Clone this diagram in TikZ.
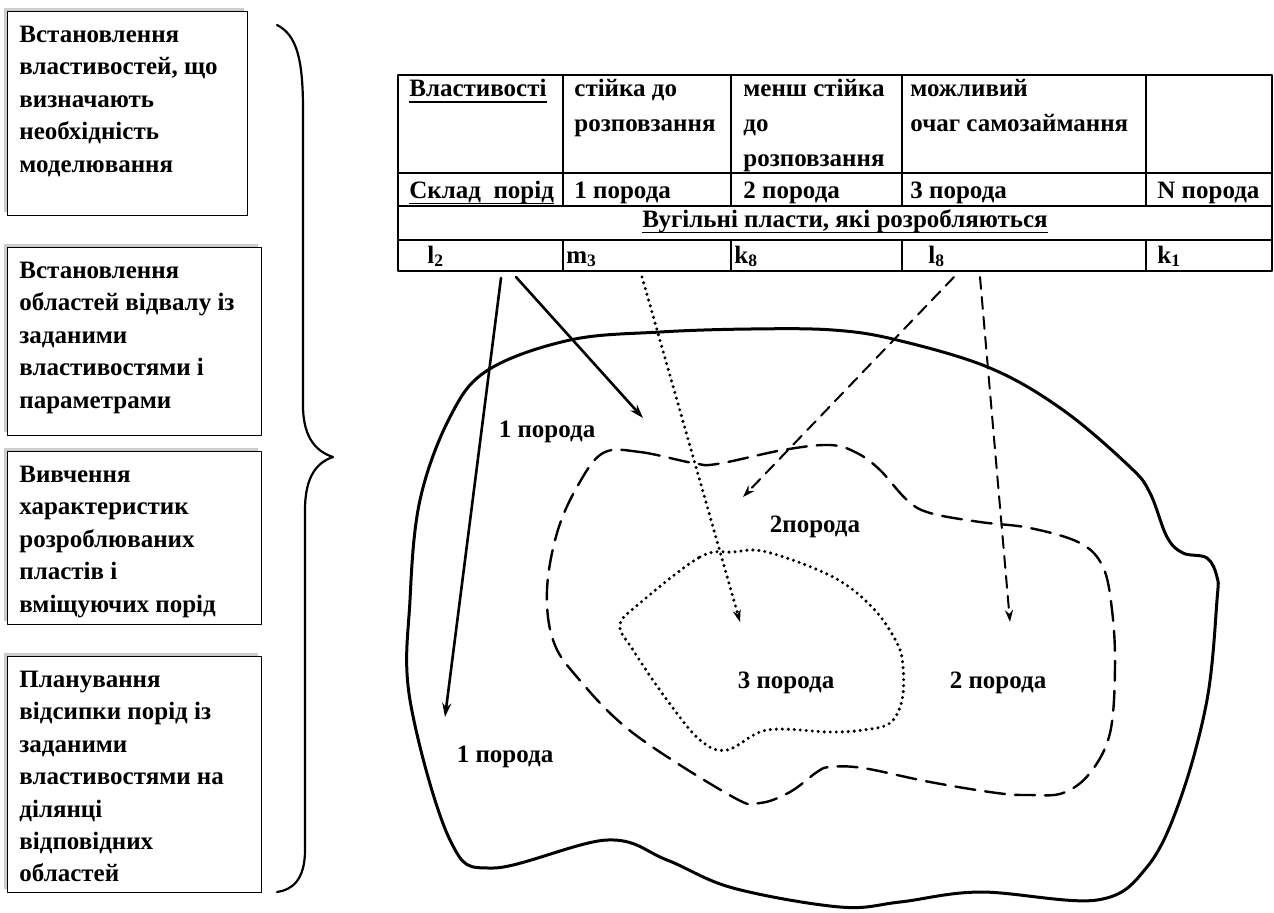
\documentclass[tikz,border=0pt]{standalone}
\usepackage{fontspec}
\setmainfont{Liberation Serif}[BoldFont={Liberation Serif Bold}]
\usetikzlibrary{arrows.meta,shadows}
\newcommand{\tstrut}{\rule{0pt}{10pt}}
\newcommand{\uln}[1]{\setbox0\hbox{#1}\rlap{\rule[-3.2pt]{\wd0}{0.9pt}}\box0}

\begin{document}
\begin{tikzpicture}[x=0.5pt,y=-0.5pt,font=\fontsize{12.5}{16.2}\selectfont\bfseries,
  line join=round,line cap=round,>=stealth,
  stagebox/.style={draw,line width=0.6pt,fill=white,anchor=north west,inner sep=0pt,
    minimum width=127pt,drop shadow={shadow xshift=-2pt,shadow yshift=2pt,fill=black!20,opacity=1}},
  stagetext/.style={anchor=north west,inner sep=0pt,align=left},
  head/.style={stagetext,font=\fontsize{12.5}{17.5}\selectfont\bfseries},
  cell/.style={anchor=base west,inner sep=0pt},
  rock/.style={anchor=base,inner sep=0pt},
  grid/.style={line width=0.7pt},
  flow/.style={line width=1.3pt,-{Stealth[length=7pt,width=4.5pt]}},
  flowdash/.style={line width=1pt,dash pattern=on 6pt off 4pt,-{Stealth[length=6pt,width=4pt]}},
  flowdot/.style={line width=1.7pt,dash pattern=on 0pt off 3pt,-{Stealth[length=6pt,width=4pt]}}]
\fill[white] (0,0) rectangle (1274,912);
\useasboundingbox (0,0) rectangle (1274,912);
% stages of the method
\node[stagebox,minimum width=120pt,minimum height=102pt] (b1) at (7,11) {};
\node[stagebox,minimum height=94pt] (b2) at (7,247) {};
\node[stagebox,minimum height=86.5pt] (b3) at (7,451) {};
\node[stagebox,minimum height=118pt] (b4) at (7,656) {};
\node[stagetext] (t1) at (19,22) {\tstrut Встановлення\\властивостей, що\\визначають\\необхідність\\моделювання};
\node[stagetext] (t2) at (19,258) {\tstrut Встановлення\\областей відвалу із\\заданими\\властивостями і\\параметрами};
\node[stagetext] (t3) at (19,462) {\tstrut Вивчення\\характеристик\\розроблюваних\\пластів і\\вміщуючих порід};
\node[stagetext] (t4) at (19,667) {\tstrut Планування\\відсипки порід із\\заданими\\властивостями на\\ділянці\\відповідних\\областей};
\draw[line width=1.1pt] (277,25) .. controls (297,35) and (303,60) .. (303,110) -- (303,405)
  .. controls (303,440) and (318,452) .. (333,457) .. controls (318,462) and (305,475) .. (305,510)
  -- (305,850) .. controls (305,880) and (292,890) .. (277,892);
% table
\draw[grid] (398,75) rectangle (1272,271);
\foreach \y in {173,206,240} \draw[grid] (398,\y) -- (1272,\y);
\foreach \x in {563,731,902,1146} {
\draw[grid] (\x,75) -- (\x,206);
\draw[grid] (\x,240) -- (\x,271);
}
\node[head] (h1) at (409,76) {\tstrut\uln{Властивості}};
\node[head] (h2) at (574,76) {\tstrut стійка до\\розповзання};
\node[head] (h3) at (743,76) {\tstrut менш стійка\\до\\розповзання};
\node[head] (h4) at (910,76) {\tstrut можливий\\очаг самозаймання};
\node[cell] (c0) at (409,198) {\uln{Склад\ \ порід}};
\foreach \x/\t/\n in {574/1 порода/c1,743/2 порода/c2,910/3 порода/c3,1157/N порода/c4}
\node[cell] (\n) at (\x,198) {\t};
\node[anchor=base,inner sep=0pt] (seam) at (845,227) {\uln{Вугільні пласти, які розробляються}};
\foreach \x/\t/\n in {427/l\textsubscript{2}/p1,566/m\textsubscript{3}/p2,734/k\textsubscript{8}/p3,928/l\textsubscript{8}/p4,1157/k\textsubscript{1}/p5}
\node[cell] (\n) at (\x,263) {\t};
% dump zones
\draw[line width=1.5pt] plot[smooth cycle,tension=0.6] coordinates {(750,329) (833,330) (897,340)
  (990,368) (1063,410) (1130,467) (1150,493) (1167,537) (1183,553) (1207,558) (1217,577)
  (1217,600) (1207,700) (1180,800) (1147,867) (1097,900) (980,892) (900,902) (840,907)
  (733,888) (667,860) (607,840) (493,868) (450,840) (410,700) (410,600) (420,500) (450,417)
  (488,370) (570,340) (660,332)};
\draw[line width=1.2pt,dash pattern=on 10pt off 5pt] plot[smooth cycle,tension=0.6] coordinates {
  (603,453) (640,452) (693,463) (717,464) (783,450) (830,445) (857,453) (880,470) (907,500)
  (930,513) (980,522) (1030,528) (1080,543) (1103,567) (1112,610) (1115,667) (1110,733)
  (1090,773) (1063,793) (1030,795) (997,793) (930,782) (863,768) (830,767) (817,772)
  (790,792) (760,803) (733,797) (633,733) (577,677) (553,640) (547,590) (557,533) (577,487)};
\draw[line width=1.7pt,dash pattern=on 0pt off 3pt] plot[smooth cycle,tension=0.6] coordinates {
  (640,603) (700,557) (733,552) (767,552) (833,577) (873,608) (897,643) (903,667) (902,700)
  (890,723) (863,730) (830,732) (767,730) (727,750) (700,740) (667,700) (633,650) (620,625)};
\node[rock] (r1a) at (547,437) {1 порода};
\node[rock] (r2a) at (815,532) {2порода};
\node[rock] (r3) at (786,688) {3 порода};
\node[rock] (r2b) at (998,688) {2 порода};
\node[rock] (r1b) at (505,762) {1 порода};
% links from seams to zones
\foreach \x/\y/\t in {501/278/s1,516/277/s2,642/277/s3,954/277/s4,980/277/s5,
  445/717/e1,643/418/e2,740/622/e3,743/497/e4,1010/622/e5}
\coordinate (\t) at (\x,\y);
\draw[flow] (s1) -- (e1);
\draw[flow] (s2) -- (e2);
\draw[flowdot] (s3) -- (e3);
\draw[flowdash] (s4) -- (e4);
\draw[flowdash] (s5) -- (e5);
\end{tikzpicture}
\end{document}
